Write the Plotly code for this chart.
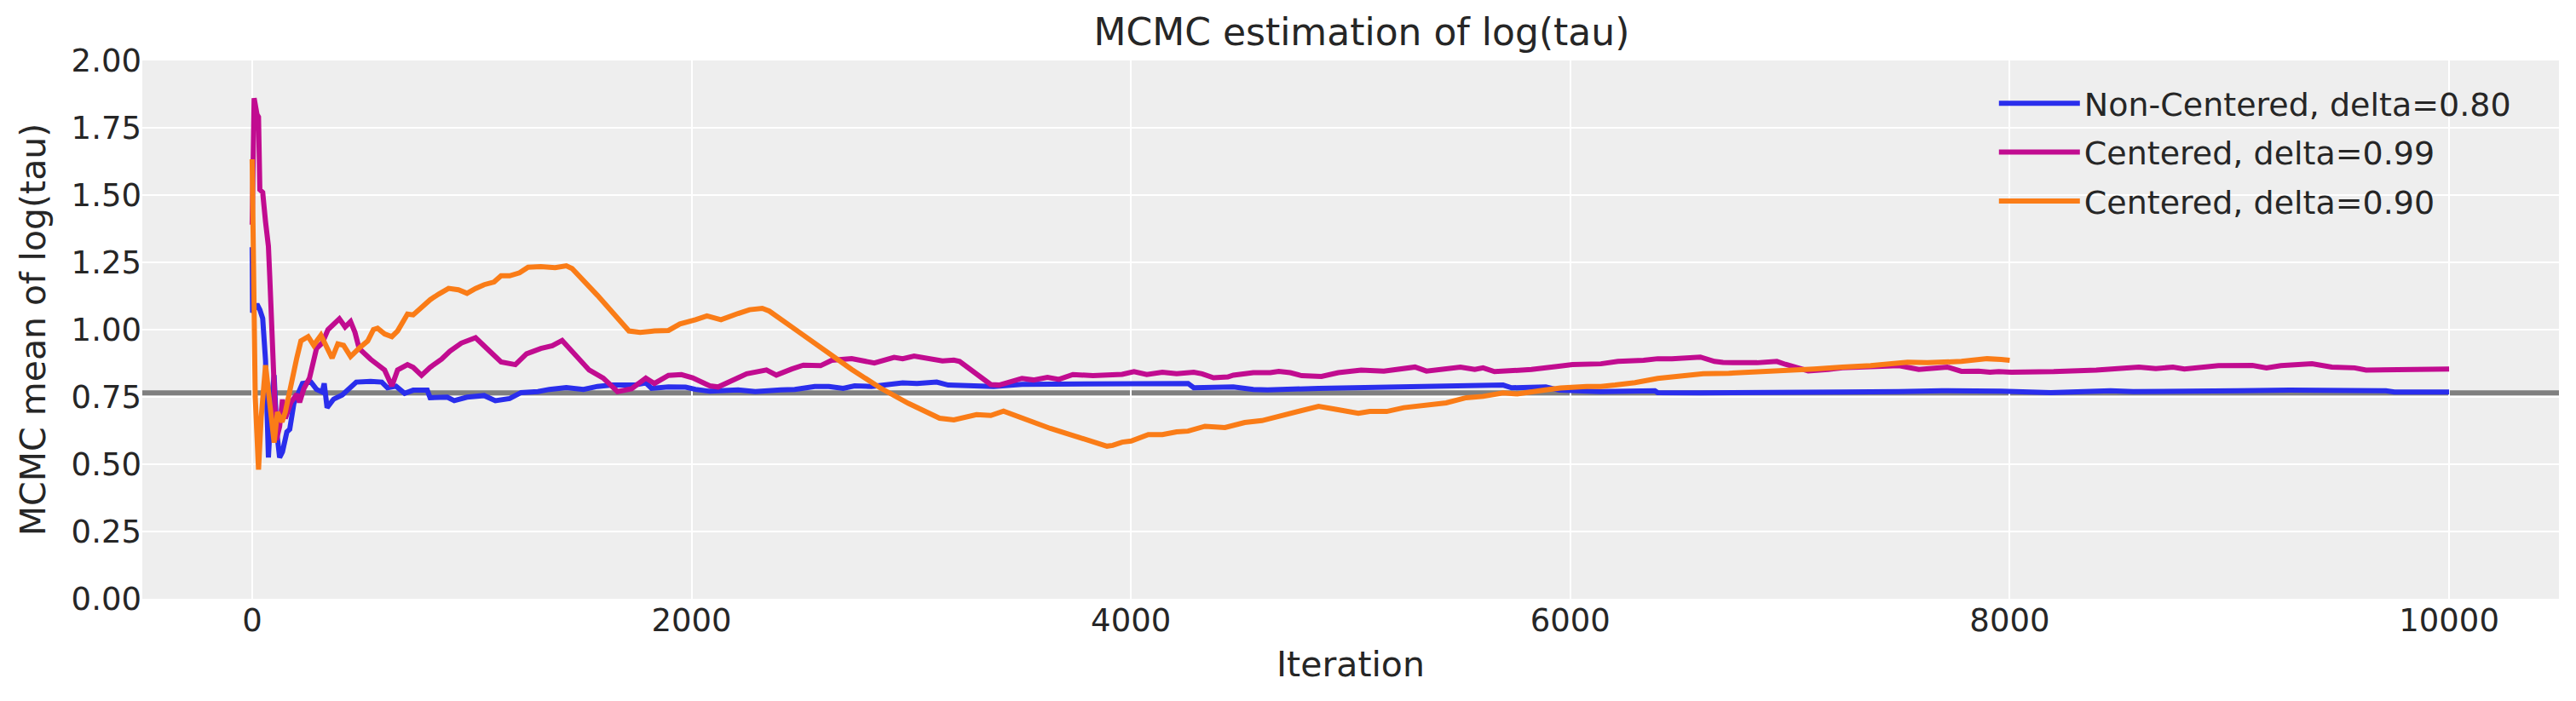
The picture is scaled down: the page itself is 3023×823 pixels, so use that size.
import plotly.graph_objects as go

# ---- data ----
nc080_iter = [0, 2, 22, 35, 48, 61, 74, 87, 100, 112, 125, 138, 158, 171, 190, 229, 268, 293, 319, 328, 341, 371, 410, 448, 474, 539, 590, 616, 655, 694, 733, 797, 810, 888, 920, 978, 1056, 1107, 1172, 1224, 1301, 1353, 1430, 1508, 1572, 1637, 1740, 1792, 1818, 1895, 1973,
              2018, 2083, 2212, 2290, 2406, 2470, 2561, 2625, 2690, 2742, 2819, 2884, 2961, 3026, 3116, 3168, 3246, 3297, 3375, 3504, 3633, 3762, 3969,
              4260, 4286, 4466, 4557, 4622, 4854, 5113, 5306, 5435, 5694, 5733, 5888, 5950,
              6139, 6385, 6398, 6592, 6979, 7238, 7496, 7690, 7961,
              8187, 8459, 8562, 9040, 9273, 9712, 9751, 10000]
nc080_val = [1.306, 1.063, 1.095, 1.074, 1.042, 0.884, 0.525, 0.726, 0.831, 0.62, 0.525, 0.546, 0.62, 0.63, 0.726, 0.80, 0.805, 0.778, 0.768, 0.80, 0.71, 0.742, 0.757, 0.789, 0.805, 0.808, 0.805, 0.784, 0.79, 0.763, 0.775, 0.775, 0.747, 0.749, 0.736, 0.749, 0.755, 0.736, 0.744, 0.766, 0.77, 0.778, 0.785, 0.778, 0.789, 0.794, 0.794, 0.802, 0.782, 0.787, 0.786,
             0.778, 0.771, 0.776, 0.77, 0.776, 0.778, 0.789, 0.789, 0.782, 0.791, 0.789, 0.796, 0.802, 0.80, 0.805, 0.794, 0.792, 0.787, 0.789, 0.797, 0.797, 0.797, 0.796,
             0.80, 0.784, 0.787, 0.778, 0.776, 0.782, 0.786, 0.785, 0.791, 0.794, 0.784, 0.787, 0.775,
             0.77, 0.773, 0.766, 0.765, 0.764, 0.768, 0.77, 0.773, 0.771,
             0.766, 0.773, 0.77, 0.773, 0.775, 0.773, 0.768, 0.768]

c099_iter = [0, 9, 22, 29, 35, 48, 61, 74, 80, 87, 100, 110, 125, 138, 151, 177, 203, 216, 235, 261, 293, 319, 345, 371, 397, 423, 448, 468, 487, 539, 603, 636, 662, 707, 733, 771, 810, 862, 900, 952, 1017, 1081, 1133, 1198, 1249, 1314, 1366, 1411, 1456, 1534, 1598, 1663, 1727, 1792, 1831, 1895, 1954,
             2005, 2083, 2121, 2212, 2251, 2341, 2386, 2457, 2509, 2587, 2638, 2729, 2780, 2832, 2922, 2961, 3013, 3078, 3142, 3194, 3220, 3362, 3400, 3504, 3556, 3620, 3672, 3736, 3827, 3960,
             4014, 4072, 4143, 4208, 4286, 4324, 4376, 4441, 4466, 4557, 4634, 4673, 4725, 4777, 4867, 4944, 5048, 5151, 5242, 5293, 5345, 5500, 5565, 5603, 5655, 5758, 5823, 5955,
             6010, 6139, 6217, 6333, 6398, 6462, 6592, 6656, 6695, 6850, 6940, 6979, 7083, 7173, 7238, 7496, 7586, 7716, 7780, 7858, 7910, 7950,
             8007, 8200, 8394, 8588, 8665, 8743, 8795, 8950, 9105, 9169, 9234, 9376, 9466, 9570, 9622, 10000]
c099_val = [1.39, 1.86, 1.80, 1.79, 1.52, 1.51, 1.40, 1.31, 1.20, 1.04, 0.83, 0.59, 0.64, 0.74, 0.67, 0.73, 0.76, 0.73, 0.78, 0.82, 0.93, 0.95, 1.0, 1.02, 1.04, 1.01, 1.03, 0.99, 0.93, 0.89, 0.85, 0.79, 0.85, 0.87, 0.86, 0.83, 0.86, 0.89, 0.92, 0.95, 0.97, 0.92, 0.88, 0.87, 0.91, 0.93, 0.94, 0.96, 0.92, 0.85, 0.82, 0.77, 0.78, 0.82, 0.80, 0.83, 0.833,
            0.821, 0.791, 0.787, 0.821, 0.836, 0.85, 0.831, 0.854, 0.868, 0.866, 0.886, 0.892, 0.882, 0.876, 0.897, 0.892, 0.902, 0.895, 0.884, 0.887, 0.882, 0.796, 0.794, 0.819, 0.813, 0.823, 0.815, 0.833, 0.829, 0.834,
            0.844, 0.833, 0.842, 0.836, 0.842, 0.836, 0.821, 0.824, 0.831, 0.84, 0.84, 0.845, 0.84, 0.829, 0.826, 0.84, 0.85, 0.846, 0.858, 0.861, 0.846, 0.861, 0.852, 0.858, 0.844, 0.846, 0.852, 0.865,
            0.87, 0.873, 0.882, 0.886, 0.892, 0.892, 0.898, 0.882, 0.878, 0.877, 0.882, 0.871, 0.847, 0.852, 0.858, 0.866, 0.852, 0.861, 0.845, 0.846, 0.842, 0.844,
            0.842, 0.844, 0.85, 0.861, 0.855, 0.861, 0.854, 0.866, 0.867, 0.858, 0.866, 0.873, 0.861, 0.858, 0.85, 0.854]

c090_iter = [0, 14, 29, 41, 61, 80, 100, 115, 136, 151, 184, 203, 222, 255, 280, 313, 364, 390, 416, 448, 487, 526, 552, 571, 603, 636, 662, 707, 733, 765, 810, 849, 894, 939, 978, 1017, 1056, 1101, 1133, 1172, 1217, 1256, 1314, 1379, 1430, 1456, 1572, 1715, 1766, 1831, 1895, 1947,
             1992, 2018, 2070, 2134, 2212, 2264, 2322, 2354, 2470, 2600, 2729, 2858, 2987, 3129, 3194, 3297, 3362, 3420, 3504, 3633, 3762, 3891, 3917, 3960,
             4001, 4079, 4143, 4208, 4260, 4337, 4428, 4518, 4596, 4660, 4751, 4854, 4932, 5035, 5087, 5164, 5242, 5319, 5371, 5435, 5526, 5603, 5694, 5758, 5888, 5955,
             6075, 6139, 6204, 6294, 6398, 6462, 6527, 6605, 6721, 6850, 6979, 7109, 7238, 7367, 7535, 7625, 7780, 7897, 7961, 8000]
c090_val = [1.633, 0.75, 0.48, 0.673, 0.868, 0.726, 0.58, 0.694, 0.657, 0.694, 0.831, 0.894, 0.958, 0.974, 0.942, 0.979, 0.894, 0.947, 0.942, 0.90, 0.931, 0.958, 1.0, 1.005, 0.984, 0.974, 0.995, 1.058, 1.055, 1.079, 1.111, 1.132, 1.153, 1.148, 1.135, 1.153, 1.167, 1.177, 1.2, 1.2, 1.211, 1.232, 1.234, 1.23, 1.237, 1.227, 1.127, 0.995, 0.99, 0.995, 0.997, 1.021,
            1.03, 1.037, 1.051, 1.037, 1.06, 1.074, 1.079, 1.069, 1.002, 0.926, 0.852, 0.784, 0.726, 0.671, 0.665, 0.684, 0.681, 0.697, 0.671, 0.633, 0.60, 0.567, 0.57, 0.582,
            0.586, 0.61, 0.61, 0.62, 0.623, 0.641, 0.636, 0.655, 0.662, 0.676, 0.692, 0.715, 0.704, 0.689, 0.696, 0.696, 0.71, 0.718, 0.72, 0.728, 0.747, 0.752, 0.765, 0.761, 0.776, 0.783,
            0.789, 0.789, 0.794, 0.803, 0.819, 0.824, 0.826, 0.836, 0.838, 0.842, 0.847, 0.854, 0.861, 0.866, 0.879, 0.877, 0.882, 0.892, 0.889, 0.886]

reference_value = 0.765

series_names = ["Non-Centered, delta=0.80", "Centered, delta=0.99", "Centered, delta=0.90"]
series_colors = ["#2a2eec", "#c10c90", "#fa7c17"]
x_ticks = [0, 2000, 4000, 6000, 8000, 10000]
y_ticks = [0.0, 0.25, 0.5, 0.75, 1.0, 1.25, 1.5, 1.75, 2.0]

FONT = "DejaVu Sans"
TXT = "#262626"

fig = go.Figure()
for i, (name, color, xs, ys) in enumerate(zip(series_names, series_colors,
                                              [nc080_iter, c099_iter, c090_iter],
                                              [nc080_val, c099_val, c090_val])):
    fig.add_trace(go.Scatter(x=xs, y=ys, mode="lines", name=name, legendgroup=f"g{i}",
                             line=dict(color=color, width=6)))

fig.add_shape(type="line", xref="paper", x0=0, x1=1, yref="y",
              y0=reference_value, y1=reference_value,
              line=dict(color="#808080", width=6), layer="between")

fig.update_layout(
    width=3023, height=823, autosize=False,
    margin=dict(l=167, r=20, t=71, b=120),
    paper_bgcolor="white", plot_bgcolor="#eeeeee",
    font=dict(family=FONT, color=TXT, size=37),
    title=dict(text="MCMC estimation of log(tau)", x=0.5286, xanchor="center",
               y=1 - 38 / 823, yanchor="middle", yref="container",
               font=dict(family=FONT, size=44, color=TXT)),
    legend=dict(x=0.7665, y=0.97, xanchor="left", yanchor="top",
                bgcolor="rgba(0,0,0,0)", borderwidth=0, traceorder="grouped",
                tracegroupgap=5,
                font=dict(family=FONT, size=38, color=TXT), itemwidth=95),
    showlegend=True,
)
fig.update_xaxes(range=[-500, 10500], tickvals=x_ticks, ticktext=[str(v) for v in x_ticks],
                 showgrid=True, gridcolor="white", gridwidth=2, zeroline=False,
                 showline=False, ticks="", tickfont=dict(size=37, family=FONT, color=TXT),
                 title=dict(text="Iteration", font=dict(size=41, family=FONT, color=TXT), standoff=16))
fig.update_yaxes(range=[0, 2], tickvals=y_ticks, ticktext=[f"{v:.2f}" for v in y_ticks],
                 showgrid=True, gridcolor="white", gridwidth=2, zeroline=False,
                 showline=False, ticks="", tickfont=dict(size=37, family=FONT, color=TXT),
                 title=dict(text="MCMC mean of log(tau)", font=dict(size=41, family=FONT, color=TXT), standoff=17))

fig.write_html("out.html")
